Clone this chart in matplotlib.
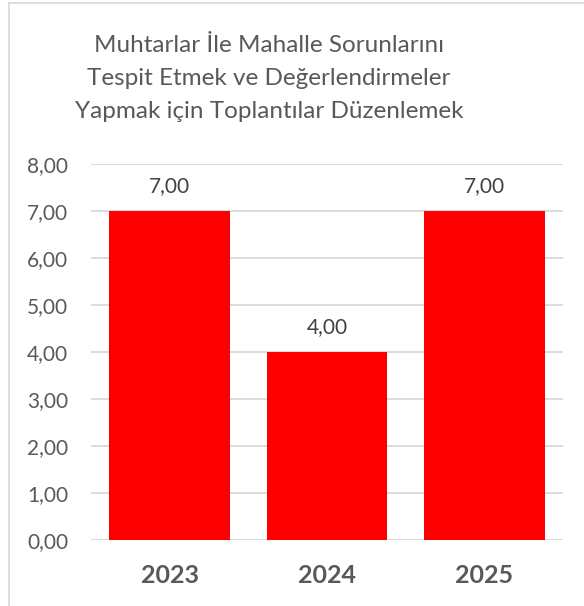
import matplotlib.pyplot as plt
from matplotlib.lines import Line2D

# dados do gráfico
years = ['2023', '2024', '2025']
values = [7.00, 4.00, 7.00]
yticks = [0, 1, 2, 3, 4, 5, 6, 7, 8]
title_lines = ['Muhtarlar İle Mahalle Sorunlarını',
               'Tespit Etmek ve Değerlendirmeler',
               'Yapmak için Toplantılar Düzenlemek']

W, H = 584, 606
GRAY = '#595959'

plt.rcParams['font.family'] = ['Lato', 'DejaVu Sans']

fig = plt.figure(figsize=(W / 100, H / 100), dpi=100)
ax = fig.add_axes([91 / W, 1 - 540 / H, (563 - 91) / W, (540 - 164) / H])

x = range(len(years))
bars = ax.bar(x, values, width=0.765, color='#FF0000', zorder=3)

ax.set_xlim(-0.5, len(years) - 0.5)
ax.set_ylim(0, 8)
ax.set_yticks(yticks)
ax.set_yticklabels([f'{v:.2f}'.replace('.', ',') for v in yticks])
ax.set_xticks(list(x))
ax.set_xticklabels(years, fontsize=18, fontweight='bold')
ax.tick_params(axis='y', length=0, pad=16.5, labelsize=15, labelcolor=GRAY)
ax.tick_params(axis='x', length=0, pad=17, labelcolor=GRAY)
ax.grid(axis='y', color='#D9D9D9', linewidth=1.3, zorder=0)
for s in ax.spines.values():
    s.set_visible(False)

# rótulos de dados
for b, v in zip(bars, values):
    ax.annotate(f'{v:.2f}'.replace('.', ','), (b.get_x() + b.get_width() / 2, v),
                xytext=(0, 11), textcoords='offset points', ha='center',
                va='bottom', fontsize=15, color='#404040')

# título em três linhas
for i, t in enumerate(title_lines):
    fig.text(269 / W, 1 - (45 + i * 33.5) / H, t, ha='center', va='center',
             fontsize=17.5, color=GRAY)

# borda do gráfico (só topo e esquerda visíveis)
fig.add_artist(Line2D([9 / W, 1], [1 - 3 / H, 1 - 3 / H], color='#D9D9D9', lw=1.2))
fig.add_artist(Line2D([9 / W, 9 / W], [0, 1 - 3 / H], color='#D9D9D9', lw=1.2))

fig.savefig('out.png', dpi=100, facecolor='white')
